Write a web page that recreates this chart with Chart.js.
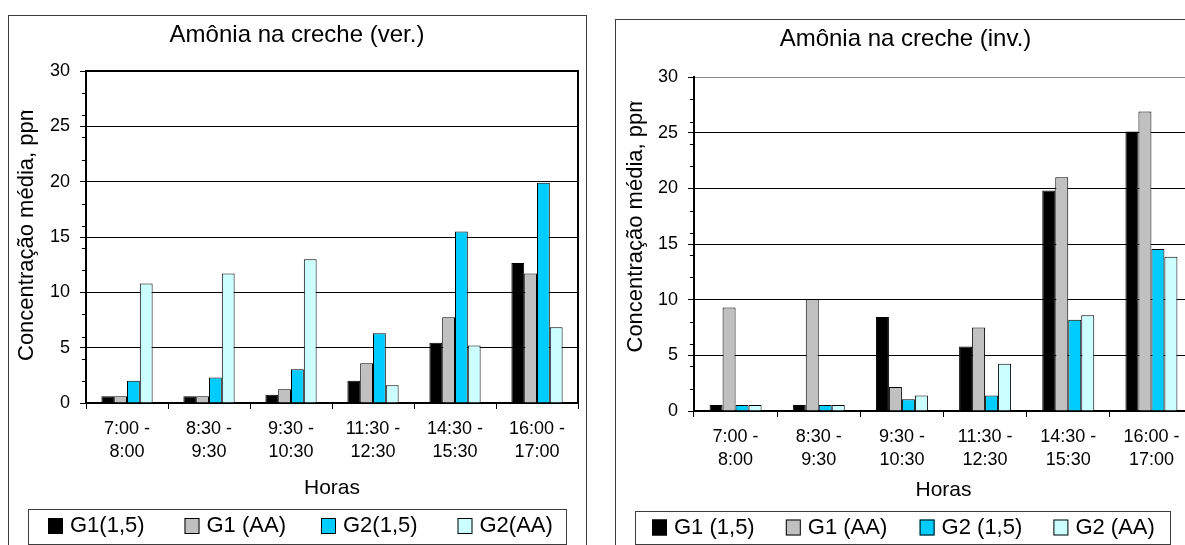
<!DOCTYPE html>
<html lang="pt-BR">
<head>
<meta charset="utf-8">
<title>Amônia na creche</title>
<script src="https://cdn.jsdelivr.net/npm/chart.js@4.4.1/dist/chart.umd.min.js"></script>
<style>
  html, body { margin: 0; padding: 0; background: #fff; width: 1185px; height: 545px; overflow: hidden; }
  canvas { position: absolute; top: 0; }
  #ver { left: 0; }
  #inv { left: 600px; }
</style>
</head>
<body>
<canvas id="ver" width="600" height="545"></canvas>
<canvas id="inv" width="620" height="545"></canvas>
<script>
// Concentração média de amônia (ppm) por faixa de horário
const horarios = [
  ['7:00 -', '8:00'],
  ['8:30 -', '9:30'],
  ['9:30 -', '10:30'],
  ['11:30 -', '12:30'],
  ['14:30 -', '15:30'],
  ['16:00 -', '17:00']
];

// verão
const verG1_15 = [0.6, 0.6, 0.75, 2.0, 5.45, 12.65];
const verG1_AA = [0.6, 0.6, 1.25, 3.6, 7.75, 11.7];
const verG2_15 = [2.0, 2.3, 3.05, 6.3, 15.5, 19.9];
const verG2_AA = [10.8, 11.7, 13.0, 1.6, 5.2, 6.85];
const legendaVer = ['G1(1,5)', 'G1 (AA)', 'G2(1,5)', 'G2(AA)'];

// inverno
const invG1_15 = [0.55, 0.55, 8.45, 5.8, 19.8, 25.1];
const invG1_AA = [9.3, 10.05, 2.15, 7.5, 21.0, 26.9];
const invG2_15 = [0.55, 0.55, 1.05, 1.4, 8.2, 14.55];
const invG2_AA = [0.55, 0.55, 1.4, 4.25, 8.6, 13.85];
const legendaInv = ['G1 (1,5)', 'G1 (AA)', 'G2 (1,5)', 'G2 (AA)'];

const yMin = 0, yMax = 30, yStep = 5;

const cores = ['#000000', '#C0C0C0', '#00CCFF', '#CCFFFF'];
const FONT = '"Liberation Sans", Arial, Helvetica, sans-serif';

Chart.defaults.font.family = FONT;
Chart.defaults.color = '#000';

// moldura do gráfico: caixa externa, título, título do eixo y (cortado), marcas menores e legenda
const moldura = {
  id: 'moldura',
  afterDraw(chart, args, o) {
    const ctx = chart.ctx;
    const area = chart.chartArea;
    const y = chart.scales.y;
    ctx.save();

    ctx.strokeStyle = '#3c3c3c';
    ctx.lineWidth = 1;
    ctx.strokeRect(o.boxLeft + 0.5, o.boxTop + 0.5, o.boxRight - o.boxLeft, chart.height);

    ctx.fillStyle = '#000';
    ctx.font = '24px ' + FONT;
    ctx.textAlign = 'center';
    ctx.textBaseline = 'middle';
    ctx.fillText(o.title, o.titleX, o.titleY);

    if (o.plotFrame) {
      ctx.strokeStyle = '#000';
      ctx.lineWidth = 2;
      ctx.beginPath();
      ctx.moveTo(area.left, area.top);
      ctx.lineTo(area.right, area.top);
      ctx.lineTo(area.right, area.bottom);
      ctx.stroke();
    }

    // marcas menores no eixo y
    ctx.strokeStyle = '#000';
    ctx.lineWidth = 1;
    for (let v = y.min; v <= y.max; v += 2) {
      if (v % yStep === 0) continue;
      const py = Math.round(y.getPixelForValue(v)) + 0.5;
      ctx.beginPath();
      ctx.moveTo(area.left - 4, py);
      ctx.lineTo(area.left, py);
      ctx.stroke();
    }

    ctx.save();
    ctx.beginPath();
    ctx.rect(0, o.yTitleClip, area.left, chart.height);
    ctx.clip();
    ctx.translate(o.yTitleX, o.yTitleY);
    ctx.rotate(-Math.PI / 2);
    ctx.font = '22px ' + FONT;
    ctx.textAlign = 'left';
    ctx.textBaseline = 'middle';
    ctx.fillText('Concentração média, ppm', 0, 0);
    ctx.restore();

    // legenda
    ctx.strokeStyle = '#3c3c3c';
    ctx.lineWidth = 1;
    ctx.strokeRect(o.legLeft + 0.5, o.legTop + 0.5, o.legRight - o.legLeft, o.legBottom - o.legTop);
    ctx.font = '22px ' + FONT;
    ctx.textAlign = 'left';
    ctx.textBaseline = 'middle';
    chart.data.datasets.forEach((ds, i) => {
      const x = o.legX + i * o.legStep;
      ctx.fillStyle = ds.backgroundColor;
      ctx.fillRect(x, o.legY - 8, 15, 16);
      ctx.strokeStyle = '#000';
      ctx.strokeRect(x + 0.5, o.legY - 7.5, 14, 15);
      ctx.fillStyle = '#000';
      ctx.fillText(ds.label, x + 22, o.legY);
    });

    ctx.restore();
  }
};

function grafico(id, series, nomes, lay, mold, gridTopo) {
  return new Chart(document.getElementById(id), {
    type: 'bar',
    data: {
      labels: horarios,
      datasets: series.map((d, i) => ({
        label: nomes[i],
        data: d,
        backgroundColor: cores[i],
        borderColor: '#000',
        borderWidth: 1,
        borderSkipped: 'bottom',
        categoryPercentage: 0.625,
        barPercentage: 1
      }))
    },
    options: {
      responsive: false,
      devicePixelRatio: 1,
      animation: false,
      layout: { padding: lay.padding },
      plugins: {
        legend: { display: false },
        title: { display: false },
        tooltip: { enabled: false },
        moldura: mold
      },
      scales: {
        x: {
          grid: { offset: true, drawOnChartArea: false, drawTicks: true, tickLength: 6, color: '#000' },
          border: { color: '#000', width: 2 },
          ticks: { font: { size: 18, lineHeight: 1.3 }, padding: 8, maxRotation: 0, autoSkip: false },
          title: { display: true, text: 'Horas', font: { size: 21 }, padding: 0 },
          afterFit(s) { s.height = lay.xHeight; }
        },
        y: {
          min: yMin,
          max: yMax,
          ticks: { stepSize: yStep, font: { size: 18 }, padding: 10 },
          grid: {
            color: c => (c.tick && c.tick.value === yMax ? gridTopo : '#000'),
            tickColor: '#000',
            tickLength: 6
          },
          border: { color: '#000', width: 2 },
          afterFit(s) { s.width = lay.yWidth; }
        }
      }
    },
    plugins: [moldura]
  });
}

grafico('ver', [verG1_15, verG1_AA, verG2_15, verG2_AA], legendaVer,
  { padding: { top: 71, left: 0, right: 22, bottom: 44 }, xHeight: 98, yWidth: 86 },
  {
    title: 'Amônia na creche (ver.)', titleX: 297, titleY: 35,
    boxLeft: 8, boxTop: 15, boxRight: 586, plotFrame: true,
    yTitleX: 27, yTitleY: 361, yTitleClip: 110.5,
    legLeft: 28, legTop: 509, legRight: 566, legBottom: 544,
    legX: 48, legStep: 136.5, legY: 526
  }, '#000');

grafico('inv', [invG1_15, invG1_AA, invG2_15, invG2_AA], legendaInv,
  { padding: { top: 77, left: 0, right: 27, bottom: 42 }, xHeight: 92, yWidth: 94 },
  {
    title: 'Amônia na creche (inv.)', titleX: 305.5, titleY: 39,
    boxLeft: 15, boxTop: 19, boxRight: 700, plotFrame: false,
    yTitleX: 35.5, yTitleY: 352.5, yTitleClip: 101,
    legLeft: 35, legTop: 511, legRight: 570, legBottom: 544,
    legX: 52, legStep: 133.8, legY: 527.5
  }, '#8c8c8c');
</script>
</body>
</html>
